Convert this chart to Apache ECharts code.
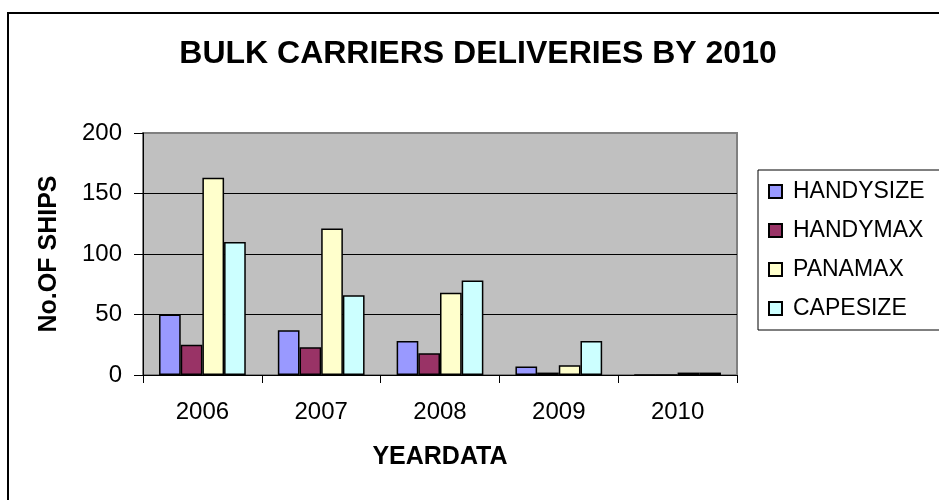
<!DOCTYPE html>
<html>
<head>
<meta charset="utf-8">
<script src="https://cdn.jsdelivr.net/npm/echarts@6/dist/echarts.min.js"></script>
<style>
  html, body { margin: 0; padding: 0; background: #fff; }
  #chart { width: 939px; height: 500px; }
</style>
</head>
<body>
<div id="chart"></div>
<script>
// deliveries per year
var years = ['2006', '2007', '2008', '2009', '2010']
var handysize = [50, 37, 28, 7, 0]
var handymax = [25, 23, 18, 2, 0]
var panamax = [163, 121, 68, 8, 2]
var capesize = [110, 66, 78, 28, 2]
var yTicks = [0, 50, 100, 150, 200]

var font = 'Liberation Sans, Arial, sans-serif'

function bar(name, color, data) {
  return {
    name: name,
    type: 'bar',
    data: data,
    barGap: 0,
    barCategoryGap: '27%',
    itemStyle: {
      color: color,
      borderColor: '#000',
      borderWidth: 1.5
    }
  }
}

var chart = echarts.init(document.getElementById('chart'), null, { renderer: 'canvas' })
chart.setOption({
  backgroundColor: '#fff',
  animation: false,
  textStyle: { fontFamily: font },
  title: {
    text: 'BULK CARRIERS DELIVERIES BY 2010',
    left: 478,
    top: 38,
    padding: 0,
    textAlign: 'center',
    textStyle: { fontSize: 32, fontWeight: 'bold', color: '#000', fontFamily: font }
  },
  graphic: [{
    type: 'rect',
    shape: { x: 8, y: 13, width: 1000, height: 600 },
    style: { fill: 'none', stroke: '#000', lineWidth: 2 },
    z: 100
  }],
  legend: {
    orient: 'vertical',
    left: 758,
    top: 170,
    padding: [10, 60, 10, 10],
    borderColor: '#000',
    borderWidth: 1,
    itemGap: 16,
    itemWidth: 13,
    itemHeight: 13,
    icon: 'rect',
    textStyle: { fontSize: 23, color: '#000', fontFamily: font, lineHeight: 23, padding: [0, 0, 0, 6] },
    data: ['HANDYSIZE', 'HANDYMAX', 'PANAMAX', 'CAPESIZE']
  },
  grid: {
    left: 143,
    right: 202,
    top: 133,
    bottom: 125,
    show: true,
    backgroundColor: '#c0c0c0',
    borderColor: '#808080',
    borderWidth: 2
  },
  xAxis: {
    type: 'category',
    data: years,
    name: 'YEARDATA',
    nameLocation: 'middle',
    nameGap: 70,
    nameTextStyle: { fontSize: 25, fontWeight: 'bold', color: '#000', fontFamily: font },
    axisLine: { lineStyle: { color: '#000', width: 1 } },
    axisTick: { show: true, length: 8, lineStyle: { color: '#000' } },
    axisLabel: { fontSize: 24, color: '#000', margin: 25, fontFamily: font }
  },
  yAxis: {
    type: 'value',
    min: yTicks[0],
    max: yTicks[yTicks.length - 1],
    interval: 50,
    name: 'No.OF SHIPS',
    nameLocation: 'middle',
    nameGap: 81,
    nameTextStyle: { fontSize: 25, fontWeight: 'bold', color: '#000', fontFamily: font },
    axisLine: { show: true, lineStyle: { color: '#000', width: 1 } },
    axisTick: { show: true, length: 9, lineStyle: { color: '#000' } },
    axisLabel: { fontSize: 24, color: '#000', margin: 21, fontFamily: font },
    splitLine: { lineStyle: { color: ['#000', '#000', '#000', '#000', '#808080'], width: 1 } }
  },
  series: [
    bar('HANDYSIZE', '#9999ff', handysize),
    bar('HANDYMAX', '#993366', handymax),
    bar('PANAMAX', '#ffffcc', panamax),
    bar('CAPESIZE', '#ccffff', capesize)
  ]
})
</script>
</body>
</html>
